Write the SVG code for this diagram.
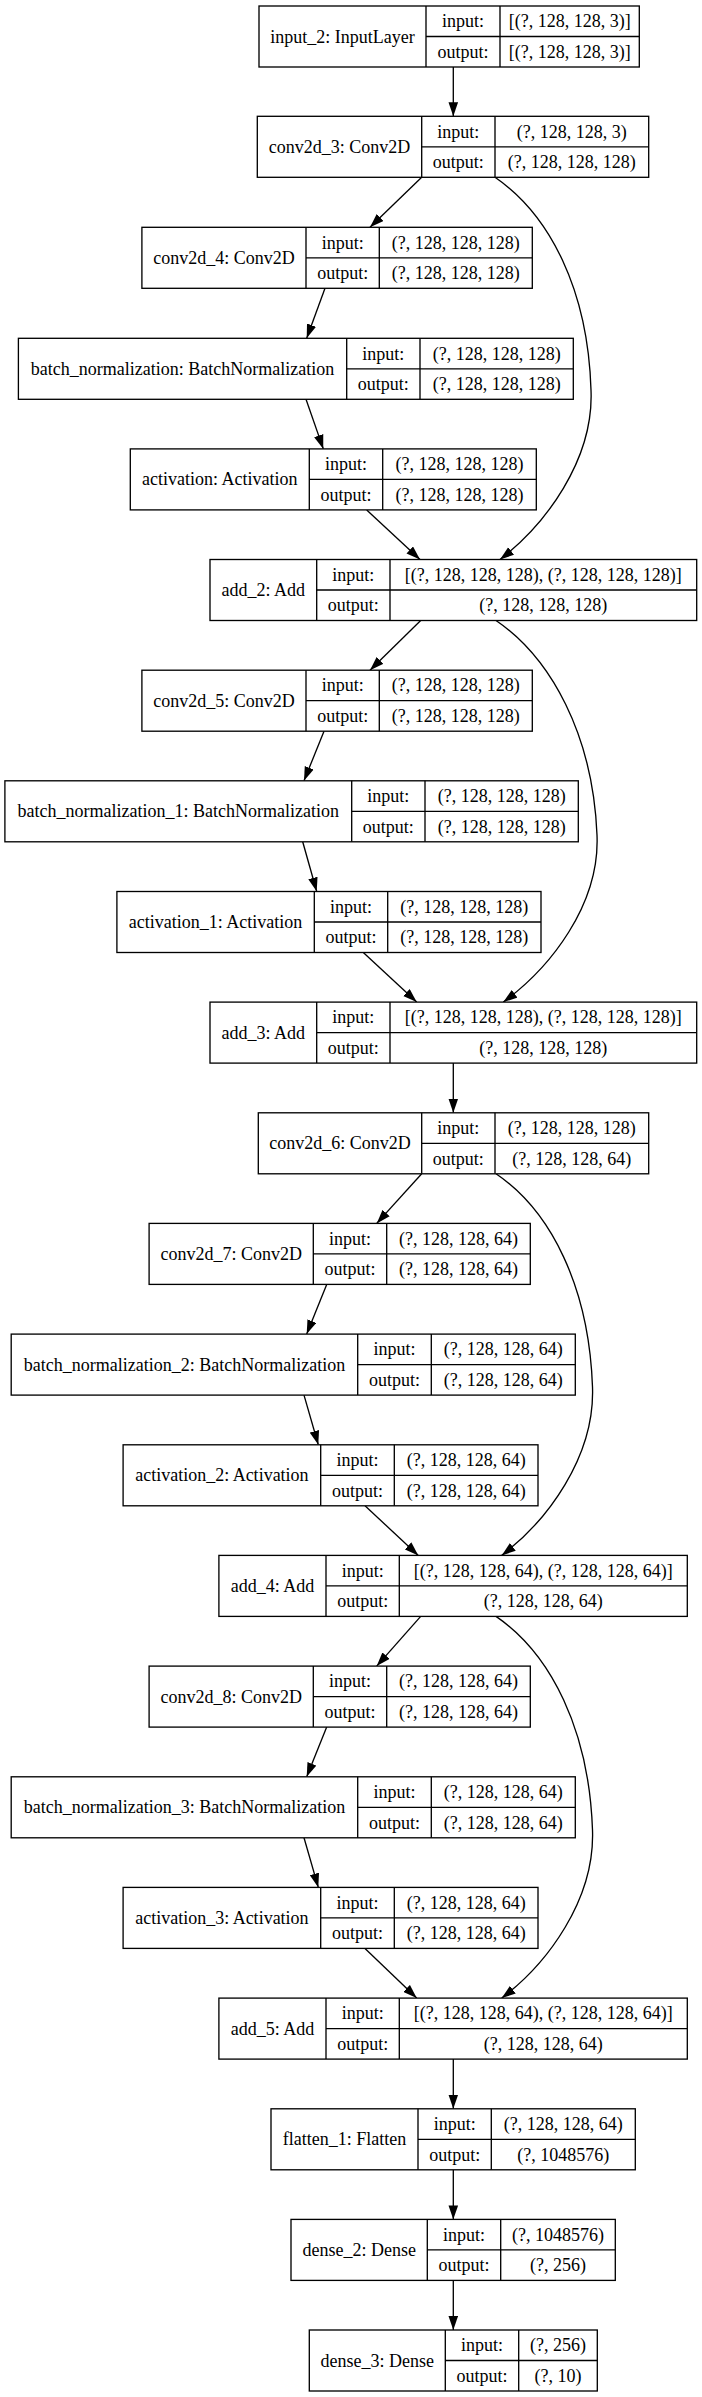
<svg xmlns="http://www.w3.org/2000/svg" width="702" height="2397" viewBox="0 0 702 2397">
<style>
.box{fill:#fff;stroke:#000;stroke-width:1.33}
.div{fill:none;stroke:#000;stroke-width:1.33}
text{font-family:"Liberation Serif","Times New Roman",serif;font-size:18px;fill:#000;text-anchor:middle}
.edge{fill:none;stroke:#000;stroke-width:1.33;marker-end:url(#arr)}
</style>
<defs>
<marker id="arr" markerUnits="userSpaceOnUse" viewBox="0 0 14 10" refX="14" refY="5" markerWidth="14" markerHeight="10" orient="auto"><path d="M0,0.2 L14,5 L0,9.8 z" fill="#000"/></marker>
</defs>
<rect width="702" height="2397" fill="#fff"/>
<g id="edges">
<path class="edge" d="M453.3,67 L453.3,116.3"/>
<path class="edge" d="M421.7,177.3 L370,227.3"/>
<path class="edge" d="M495,177.3 C550,215 588,290 591,390 C594,460 545,525 500,559.5"/>
<path class="edge" d="M325,288.3 L306.7,338.3"/>
<path class="edge" d="M306,399.3 L323.3,448.9"/>
<path class="edge" d="M366.7,509.9 L420,559.5"/>
<path class="edge" d="M420.7,620.5 L370,670.2"/>
<path class="edge" d="M496,620.5 C551,658 593,735 597,835 C600,905 550,968 503.3,1002.1"/>
<path class="edge" d="M324,731.2 L304,780.8"/>
<path class="edge" d="M302.7,841.8 L316.7,891.5"/>
<path class="edge" d="M363.3,952.5 L416.7,1002.1"/>
<path class="edge" d="M453.3,1063.1 L453.3,1112.8"/>
<path class="edge" d="M421.7,1173.8 L376.7,1223.4"/>
<path class="edge" d="M496,1173.8 C551,1211 589,1287 592.5,1387 C595,1457 547,1521 501.7,1555.4"/>
<path class="edge" d="M326.7,1284.4 L306.7,1334.1"/>
<path class="edge" d="M304,1395.1 L318.3,1444.8"/>
<path class="edge" d="M365,1505.8 L418.3,1555.4"/>
<path class="edge" d="M420.7,1616.4 L376.7,1666.1"/>
<path class="edge" d="M496,1616.4 C551,1654 589,1730 592.5,1830 C595,1900 547,1964 501.7,1998.1"/>
<path class="edge" d="M326.7,1727.1 L306.7,1776.8"/>
<path class="edge" d="M304,1837.8 L318.3,1887.4"/>
<path class="edge" d="M365,1948.4 L416.7,1998.1"/>
<path class="edge" d="M453.3,2059.1 L453.3,2108.8"/>
<path class="edge" d="M453.3,2169.8 L453.3,2219.4"/>
<path class="edge" d="M453.3,2280.4 L453.3,2330"/>
</g>
<g id="input_2">
<rect class="box" x="259" y="6" width="380.3" height="61"/>
<path class="div" d="M426,6 V67 M500,6 V67 M426,36.5 H639.3"/>
<text x="342.5" y="42.5">input_2: InputLayer</text>
<text x="463" y="27.25">input:</text><text x="463" y="57.75">output:</text>
<text x="569.65" y="27.25">[(?, 128, 128, 3)]</text><text x="569.65" y="57.75">[(?, 128, 128, 3)]</text>
</g>
<g id="conv2d_3">
<rect class="box" x="257.3" y="116.3" width="391.4" height="61"/>
<path class="div" d="M421.7,116.3 V177.3 M495,116.3 V177.3 M421.7,146.8 H648.7"/>
<text x="339.5" y="152.8">conv2d_3: Conv2D</text>
<text x="458.35" y="137.55">input:</text><text x="458.35" y="168.05">output:</text>
<text x="571.85" y="137.55">(?, 128, 128, 3)</text><text x="571.85" y="168.05">(?, 128, 128, 128)</text>
</g>
<g id="conv2d_4">
<rect class="box" x="141.9" y="227.3" width="390.4" height="61"/>
<path class="div" d="M306,227.3 V288.3 M379.3,227.3 V288.3 M306,257.8 H532.3"/>
<text x="223.95" y="263.8">conv2d_4: Conv2D</text>
<text x="342.65" y="248.55">input:</text><text x="342.65" y="279.05">output:</text>
<text x="455.8" y="248.55">(?, 128, 128, 128)</text><text x="455.8" y="279.05">(?, 128, 128, 128)</text>
</g>
<g id="batch_normalization">
<rect class="box" x="18.4" y="338.3" width="554.9" height="61"/>
<path class="div" d="M346.7,338.3 V399.3 M420,338.3 V399.3 M346.7,368.8 H573.3"/>
<text x="182.55" y="374.8">batch_normalization: BatchNormalization</text>
<text x="383.35" y="359.55">input:</text><text x="383.35" y="390.05">output:</text>
<text x="496.65" y="359.55">(?, 128, 128, 128)</text><text x="496.65" y="390.05">(?, 128, 128, 128)</text>
</g>
<g id="activation">
<rect class="box" x="130.3" y="448.9" width="406" height="61"/>
<path class="div" d="M309.3,448.9 V509.9 M382.7,448.9 V509.9 M309.3,479.4 H536.3"/>
<text x="219.8" y="485.4">activation: Activation</text>
<text x="346" y="470.15">input:</text><text x="346" y="500.65">output:</text>
<text x="459.5" y="470.15">(?, 128, 128, 128)</text><text x="459.5" y="500.65">(?, 128, 128, 128)</text>
</g>
<g id="add_2">
<rect class="box" x="210" y="559.5" width="486.7" height="61"/>
<path class="div" d="M316.7,559.5 V620.5 M390,559.5 V620.5 M316.7,590 H696.7"/>
<text x="263.35" y="596">add_2: Add</text>
<text x="353.35" y="580.75">input:</text><text x="353.35" y="611.25">output:</text>
<text x="543.35" y="580.75">[(?, 128, 128, 128), (?, 128, 128, 128)]</text><text x="543.35" y="611.25">(?, 128, 128, 128)</text>
</g>
<g id="conv2d_5">
<rect class="box" x="141.9" y="670.2" width="390.4" height="61"/>
<path class="div" d="M306,670.2 V731.2 M379.3,670.2 V731.2 M306,700.7 H532.3"/>
<text x="223.95" y="706.7">conv2d_5: Conv2D</text>
<text x="342.65" y="691.45">input:</text><text x="342.65" y="721.95">output:</text>
<text x="455.8" y="691.45">(?, 128, 128, 128)</text><text x="455.8" y="721.95">(?, 128, 128, 128)</text>
</g>
<g id="batch_normalization_1">
<rect class="box" x="4.9" y="780.8" width="573.4" height="61"/>
<path class="div" d="M351.7,780.8 V841.8 M425,780.8 V841.8 M351.7,811.3 H578.3"/>
<text x="178.3" y="817.3">batch_normalization_1: BatchNormalization</text>
<text x="388.35" y="802.05">input:</text><text x="388.35" y="832.55">output:</text>
<text x="501.65" y="802.05">(?, 128, 128, 128)</text><text x="501.65" y="832.55">(?, 128, 128, 128)</text>
</g>
<g id="activation_1">
<rect class="box" x="116.9" y="891.5" width="424.1" height="61"/>
<path class="div" d="M314.3,891.5 V952.5 M387.7,891.5 V952.5 M314.3,922 H541"/>
<text x="215.6" y="928">activation_1: Activation</text>
<text x="351" y="912.75">input:</text><text x="351" y="943.25">output:</text>
<text x="464.35" y="912.75">(?, 128, 128, 128)</text><text x="464.35" y="943.25">(?, 128, 128, 128)</text>
</g>
<g id="add_3">
<rect class="box" x="210" y="1002.1" width="486.7" height="61"/>
<path class="div" d="M316.7,1002.1 V1063.1 M390,1002.1 V1063.1 M316.7,1032.6 H696.7"/>
<text x="263.35" y="1038.6">add_3: Add</text>
<text x="353.35" y="1023.35">input:</text><text x="353.35" y="1053.85">output:</text>
<text x="543.35" y="1023.35">[(?, 128, 128, 128), (?, 128, 128, 128)]</text><text x="543.35" y="1053.85">(?, 128, 128, 128)</text>
</g>
<g id="conv2d_6">
<rect class="box" x="258.3" y="1112.8" width="390.4" height="61"/>
<path class="div" d="M421.7,1112.8 V1173.8 M495,1112.8 V1173.8 M421.7,1143.3 H648.7"/>
<text x="340" y="1149.3">conv2d_6: Conv2D</text>
<text x="458.35" y="1134.05">input:</text><text x="458.35" y="1164.55">output:</text>
<text x="571.85" y="1134.05">(?, 128, 128, 128)</text><text x="571.85" y="1164.55">(?, 128, 128, 64)</text>
</g>
<g id="conv2d_7">
<rect class="box" x="149.1" y="1223.4" width="381.2" height="61"/>
<path class="div" d="M313.3,1223.4 V1284.4 M386.7,1223.4 V1284.4 M313.3,1253.9 H530.3"/>
<text x="231.2" y="1259.9">conv2d_7: Conv2D</text>
<text x="350" y="1244.65">input:</text><text x="350" y="1275.15">output:</text>
<text x="458.5" y="1244.65">(?, 128, 128, 64)</text><text x="458.5" y="1275.15">(?, 128, 128, 64)</text>
</g>
<g id="batch_normalization_2">
<rect class="box" x="11.2" y="1334.1" width="564.1" height="61"/>
<path class="div" d="M357.7,1334.1 V1395.1 M431.3,1334.1 V1395.1 M357.7,1364.6 H575.3"/>
<text x="184.45" y="1370.6">batch_normalization_2: BatchNormalization</text>
<text x="394.5" y="1355.35">input:</text><text x="394.5" y="1385.85">output:</text>
<text x="503.3" y="1355.35">(?, 128, 128, 64)</text><text x="503.3" y="1385.85">(?, 128, 128, 64)</text>
</g>
<g id="activation_2">
<rect class="box" x="123.1" y="1444.8" width="414.9" height="61"/>
<path class="div" d="M320.7,1444.8 V1505.8 M394.3,1444.8 V1505.8 M320.7,1475.3 H538"/>
<text x="221.9" y="1481.3">activation_2: Activation</text>
<text x="357.5" y="1466.05">input:</text><text x="357.5" y="1496.55">output:</text>
<text x="466.15" y="1466.05">(?, 128, 128, 64)</text><text x="466.15" y="1496.55">(?, 128, 128, 64)</text>
</g>
<g id="add_4">
<rect class="box" x="218.9" y="1555.4" width="468.4" height="61"/>
<path class="div" d="M326,1555.4 V1616.4 M399.3,1555.4 V1616.4 M326,1585.9 H687.3"/>
<text x="272.45" y="1591.9">add_4: Add</text>
<text x="362.65" y="1576.65">input:</text><text x="362.65" y="1607.15">output:</text>
<text x="543.3" y="1576.65">[(?, 128, 128, 64), (?, 128, 128, 64)]</text><text x="543.3" y="1607.15">(?, 128, 128, 64)</text>
</g>
<g id="conv2d_8">
<rect class="box" x="149.1" y="1666.1" width="381.2" height="61"/>
<path class="div" d="M313.3,1666.1 V1727.1 M386.7,1666.1 V1727.1 M313.3,1696.6 H530.3"/>
<text x="231.2" y="1702.6">conv2d_8: Conv2D</text>
<text x="350" y="1687.35">input:</text><text x="350" y="1717.85">output:</text>
<text x="458.5" y="1687.35">(?, 128, 128, 64)</text><text x="458.5" y="1717.85">(?, 128, 128, 64)</text>
</g>
<g id="batch_normalization_3">
<rect class="box" x="11.2" y="1776.8" width="564.1" height="61"/>
<path class="div" d="M357.7,1776.8 V1837.8 M431.3,1776.8 V1837.8 M357.7,1807.3 H575.3"/>
<text x="184.45" y="1813.3">batch_normalization_3: BatchNormalization</text>
<text x="394.5" y="1798.05">input:</text><text x="394.5" y="1828.55">output:</text>
<text x="503.3" y="1798.05">(?, 128, 128, 64)</text><text x="503.3" y="1828.55">(?, 128, 128, 64)</text>
</g>
<g id="activation_3">
<rect class="box" x="123.1" y="1887.4" width="414.9" height="61"/>
<path class="div" d="M320.7,1887.4 V1948.4 M394.3,1887.4 V1948.4 M320.7,1917.9 H538"/>
<text x="221.9" y="1923.9">activation_3: Activation</text>
<text x="357.5" y="1908.65">input:</text><text x="357.5" y="1939.15">output:</text>
<text x="466.15" y="1908.65">(?, 128, 128, 64)</text><text x="466.15" y="1939.15">(?, 128, 128, 64)</text>
</g>
<g id="add_5">
<rect class="box" x="218.9" y="1998.1" width="468.4" height="61"/>
<path class="div" d="M326,1998.1 V2059.1 M399.3,1998.1 V2059.1 M326,2028.6 H687.3"/>
<text x="272.45" y="2034.6">add_5: Add</text>
<text x="362.65" y="2019.35">input:</text><text x="362.65" y="2049.85">output:</text>
<text x="543.3" y="2019.35">[(?, 128, 128, 64), (?, 128, 128, 64)]</text><text x="543.3" y="2049.85">(?, 128, 128, 64)</text>
</g>
<g id="flatten_1">
<rect class="box" x="271" y="2108.8" width="364.3" height="61"/>
<path class="div" d="M418,2108.8 V2169.8 M491.3,2108.8 V2169.8 M418,2139.3 H635.3"/>
<text x="344.5" y="2145.3">flatten_1: Flatten</text>
<text x="454.65" y="2130.05">input:</text><text x="454.65" y="2160.55">output:</text>
<text x="563.3" y="2130.05">(?, 128, 128, 64)</text><text x="563.3" y="2160.55">(?, 1048576)</text>
</g>
<g id="dense_2">
<rect class="box" x="291" y="2219.4" width="324.3" height="61"/>
<path class="div" d="M427.3,2219.4 V2280.4 M500.7,2219.4 V2280.4 M427.3,2249.9 H615.3"/>
<text x="359.15" y="2255.9">dense_2: Dense</text>
<text x="464" y="2240.65">input:</text><text x="464" y="2271.15">output:</text>
<text x="558" y="2240.65">(?, 1048576)</text><text x="558" y="2271.15">(?, 256)</text>
</g>
<g id="dense_3">
<rect class="box" x="309.3" y="2330" width="288" height="61"/>
<path class="div" d="M445.3,2330 V2391 M518.7,2330 V2391 M445.3,2360.5 H597.3"/>
<text x="377.3" y="2366.5">dense_3: Dense</text>
<text x="482" y="2351.25">input:</text><text x="482" y="2381.75">output:</text>
<text x="558" y="2351.25">(?, 256)</text><text x="558" y="2381.75">(?, 10)</text>
</g>
</svg>
